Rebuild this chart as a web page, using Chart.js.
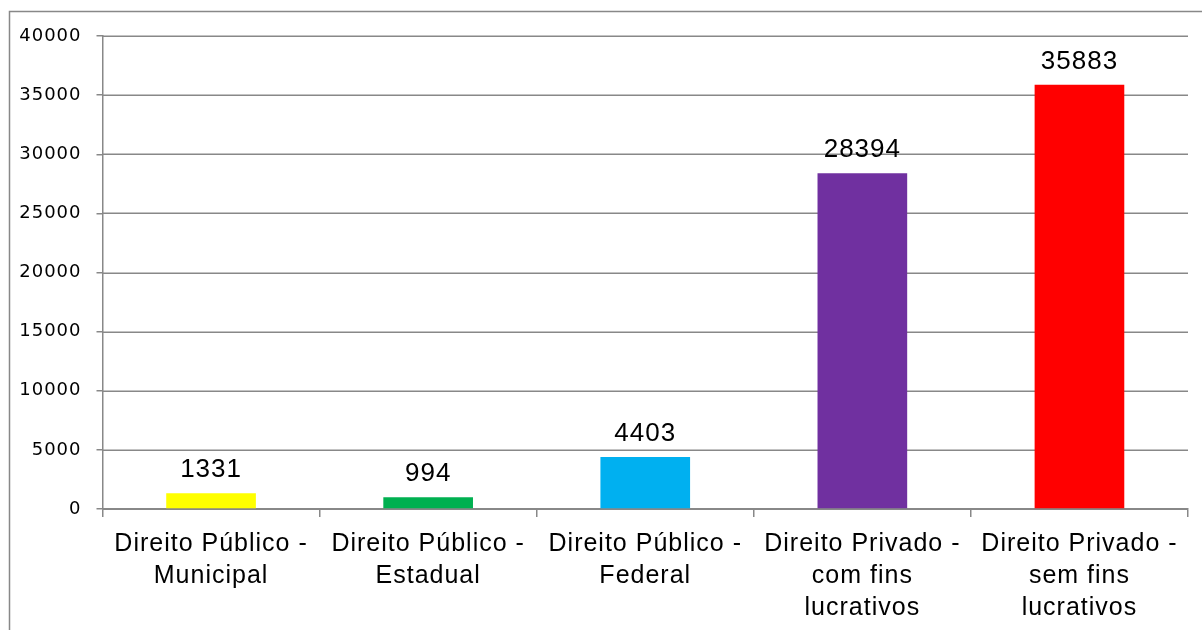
<!DOCTYPE html>
<html>
<head>
<meta charset="utf-8">
<title>Entidades por natureza jurídica</title>
<script src="https://cdn.jsdelivr.net/npm/chart.js@4.4.1/dist/chart.umd.min.js"></script>
<style>
  html, body { margin: 0; padding: 0; background: #ffffff; }
  canvas { display: block; }
</style>
</head>
<body>
<canvas id="chart" width="1202" height="630"></canvas>
<script>
// Categories (multi-line labels) and values
const categories = [
  ['Direito Público -', 'Municipal'],
  ['Direito Público -', 'Estadual'],
  ['Direito Público -', 'Federal'],
  ['Direito Privado -', 'com fins', 'lucrativos'],
  ['Direito Privado -', 'sem fins', 'lucrativos']
];
const values = [1331, 994, 4403, 28394, 35883];
const barColors = ['#FFFF00', '#00B050', '#00B0F0', '#7030A0', '#FF0000'];
const yTicks = [0, 5000, 10000, 15000, 20000, 25000, 30000, 35000, 40000];

const GRID = '#888888';

// Slightly spaced lettering for all canvas text
const letterSpacingPlugin = {
  id: 'letterSpacing',
  beforeDraw(chart) {
    chart.ctx.letterSpacing = '1px';
  }
};

// Horizontal gridlines from the value axis to the last category boundary
const plotGrid = {
  id: 'plotGrid',
  beforeDatasetsDraw(chart) {
    const { ctx, chartArea } = chart;
    const x = chart.scales.x;
    const y = chart.scales.y;
    const n = categories.length;
    const step = x.getPixelForTick(1) - x.getPixelForTick(0);
    const right = x.getPixelForTick(n - 1) + step / 2;
    ctx.save();
    ctx.strokeStyle = GRID;
    ctx.lineWidth = 1.5;
    yTicks.forEach((v) => {
      const py = Math.round(y.getPixelForValue(v)) + 0.25;
      ctx.beginPath();
      ctx.moveTo(chartArea.left, py);
      ctx.lineTo(right, py);
      ctx.stroke();
    });
    ctx.restore();
  }
};

// Value written above each bar
const valueLabels = {
  id: 'valueLabels',
  afterDatasetsDraw(chart) {
    const ctx = chart.ctx;
    const meta = chart.getDatasetMeta(0);
    ctx.save();
    ctx.letterSpacing = '1px';
    ctx.font = '26px "Liberation Sans", Arial, sans-serif';
    ctx.fillStyle = '#000000';
    ctx.textAlign = 'center';
    ctx.textBaseline = 'alphabetic';
    meta.data.forEach((bar, i) => {
      ctx.fillText(String(values[i]), bar.x, bar.y - 16);
    });
    ctx.restore();
  }
};

// Thin frame along the top and left of the chart
const outerFrame = {
  id: 'outerFrame',
  afterDraw(chart) {
    const ctx = chart.ctx;
    ctx.save();
    ctx.strokeStyle = GRID;
    ctx.lineWidth = 1.5;
    ctx.beginPath();
    ctx.moveTo(9.5, 700);
    ctx.lineTo(9.5, 11.5);
    ctx.lineTo(1300, 11.5);
    ctx.stroke();
    ctx.restore();
  }
};

new Chart(document.getElementById('chart'), {
  type: 'bar',
  data: {
    labels: categories,
    datasets: [{
      data: values,
      backgroundColor: barColors,
      borderWidth: 0,
      barPercentage: 0.413,
      categoryPercentage: 1.0
    }]
  },
  options: {
    responsive: false,
    animation: false,
    events: [],
    layout: { padding: { left: 0, top: 36, right: 14, bottom: 0 } },
    plugins: {
      legend: { display: false },
      tooltip: { enabled: false },
      title: { display: false }
    },
    scales: {
      x: {
        afterFit(scale) { scale.height = 121; },
        grid: {
          display: true,
          offset: true,
          drawOnChartArea: false,
          drawTicks: true,
          tickLength: 8,
          color: GRID,
          lineWidth: 1.5
        },
        border: { display: true, color: GRID, width: 1.5 },
        ticks: {
          color: '#000000',
          padding: 11,
          maxRotation: 0,
          autoSkip: false,
          font: { family: 'Liberation Sans', size: 25, lineHeight: '32px' }
        }
      },
      y: {
        min: 0,
        max: 40000,
        afterFit(scale) { scale.width = 102.5; },
        afterBuildTicks(scale) { scale.ticks = yTicks.map(v => ({ value: v })); },
        grid: {
          color: GRID,
          lineWidth: 1.5,
          tickLength: 6,
          drawTicks: true,
          drawOnChartArea: false
        },
        border: { display: true, color: GRID, width: 1.5 },
        ticks: {
          color: '#000000',
          padding: 15,
          callback: (v) => String(v),
          font: { family: 'DejaVu Sans', size: 18 }
        }
      }
    }
  },
  plugins: [letterSpacingPlugin, plotGrid, valueLabels, outerFrame]
});
</script>
</body>
</html>
